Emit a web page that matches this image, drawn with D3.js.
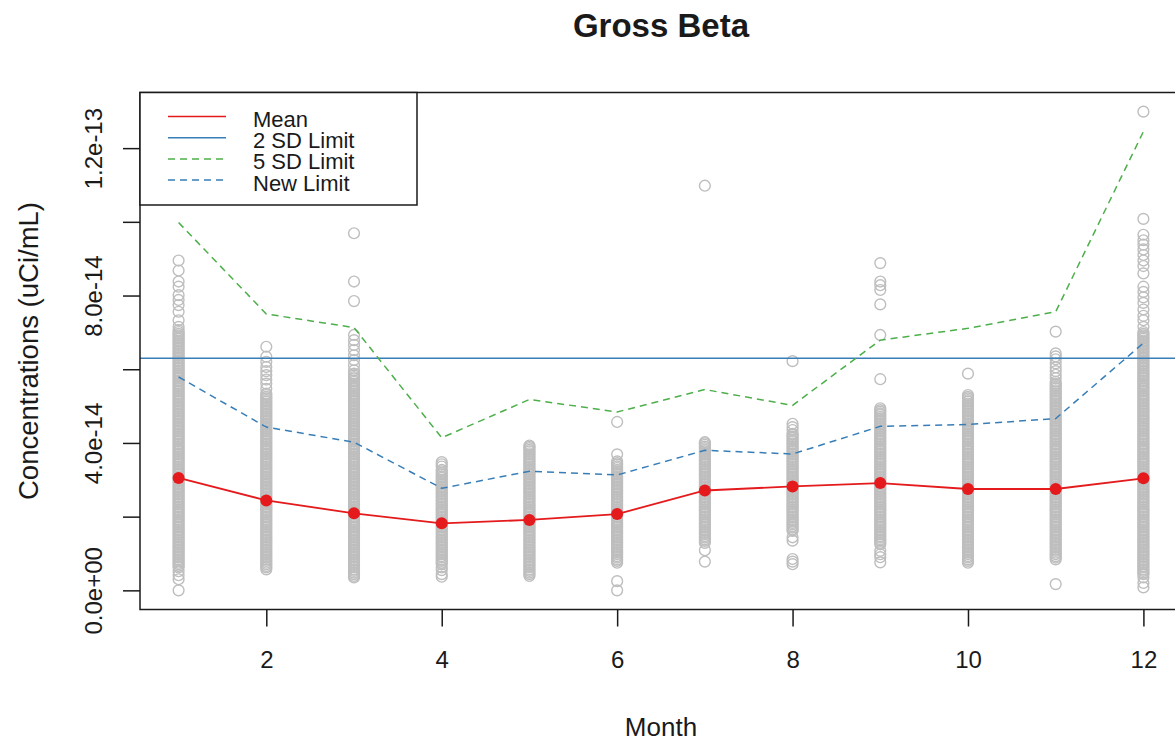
<!DOCTYPE html>
<html>
<head>
<meta charset="utf-8">
<script src="https://cdn.jsdelivr.net/npm/d3@7"></script>
<style>
  body { margin: 0; background: #fff; }
  svg { display: block; }
  text { font-family: "Liberation Sans", Arial, Helvetica, sans-serif; fill: #1a1a1a; }
</style>
</head>
<body>
<svg id="chart" width="1175" height="743"></svg>
<script>
// All concentrations below are stored in units of 1e-14 uCi/mL.
const UNIT = 1e-14;

const months = [1, 2, 3, 4, 5, 6, 7, 8, 9, 10, 11, 12];

// Individual monthly readings (gross beta), one array per month
const readingsJan = [8.95,8.68,8.38,8.24,8.01,7.88,7.74,7.56,7.33,7.15,
  0.62,0.66,0.71,0.75,0.8,0.84,0.89,0.93,0.98,1.02,1.07,1.11,1.16,1.2,1.25,1.29,1.34,1.38,1.43,1.47,1.52,1.56,1.61,1.65,1.7,1.74,1.79,1.83,1.88,1.92,1.97,2.01,2.06,2.1,2.15,2.19,2.24,2.28,2.33,2.37,2.42,2.46,2.51,2.55,2.6,2.64,2.69,2.73,2.78,2.82,2.87,2.91,2.96,3,3.05,3.09,3.14,3.18,3.23,3.27,3.32,3.36,3.41,3.45,3.5,3.54,3.59,3.63,3.68,3.72,3.77,3.81,3.86,3.9,3.95,3.99,4.04,4.08,4.13,4.17,4.22,4.26,4.31,4.35,4.4,4.44,4.49,4.53,4.58,4.62,4.67,4.71,4.76,4.8,4.85,4.89,4.94,4.98,5.03,5.07,5.12,5.16,5.21,5.25,5.3,5.34,5.39,5.43,5.48,5.52,5.57,5.61,5.66,5.7,5.75,5.79,5.84,5.88,5.93,5.97,6.02,6.06,6.11,6.15,6.2,6.24,6.29,6.33,6.38,6.42,6.47,6.51,6.56,6.6,6.65,6.69,6.74,6.78,6.83,6.87,6.92,6.96,7.01,7.06,
  0.52,0.41,0.3,0.0];
const readingsFeb = [6.61,6.34,6.2,6.06,5.95,5.84,5.72,5.61,5.47,
  0.57,0.62,0.66,0.71,0.75,0.8,0.84,0.89,0.93,0.98,1.02,1.07,1.11,1.16,1.2,1.25,1.29,1.34,1.38,1.43,1.47,1.52,1.56,1.61,1.65,1.7,1.74,1.79,1.83,1.88,1.92,1.97,2.01,2.06,2.1,2.15,2.19,2.24,2.28,2.33,2.37,2.42,2.46,2.51,2.55,2.6,2.64,2.69,2.73,2.78,2.82,2.87,2.91,2.96,3,3.05,3.09,3.14,3.18,3.23,3.27,3.32,3.36,3.41,3.45,3.5,3.54,3.59,3.63,3.68,3.72,3.77,3.81,3.86,3.9,3.95,3.99,4.04,4.08,4.13,4.17,4.22,4.26,4.31,4.35,4.4,4.44,4.49,4.53,4.58,4.62,4.67,4.71,4.76,4.8,4.85,4.89,4.94,4.98,5.03,5.07,5.12,5.16,5.21,5.25,5.3,5.34];
const readingsMar = [9.69,8.38,7.85,6.93,6.79,6.66,6.52,6.38,6.25,6.11,5.97,
  0.35,0.39,0.44,0.48,0.53,0.57,0.62,0.66,0.71,0.75,0.8,0.84,0.89,0.93,0.98,1.02,1.07,1.11,1.16,1.2,1.25,1.29,1.34,1.38,1.43,1.47,1.52,1.56,1.61,1.65,1.7,1.74,1.79,1.83,1.88,1.92,1.97,2.01,2.06,2.1,2.15,2.19,2.24,2.28,2.33,2.37,2.42,2.46,2.51,2.55,2.6,2.64,2.69,2.73,2.78,2.82,2.87,2.91,2.96,3,3.05,3.09,3.14,3.18,3.23,3.27,3.32,3.36,3.41,3.45,3.5,3.54,3.59,3.63,3.68,3.72,3.77,3.81,3.86,3.9,3.95,3.99,4.04,4.08,4.13,4.17,4.22,4.26,4.31,4.35,4.4,4.44,4.49,4.53,4.58,4.62,4.67,4.71,4.76,4.8,4.85,4.89,4.94,4.98,5.03,5.07,5.12,5.16,5.21,5.25,5.3,5.34,5.39,5.43,5.48,5.52,5.57,5.61,5.66,5.7,5.75,5.79,5.84,5.88];
const readingsApr = [3.48,3.42,3.36,
  0.71,0.75,0.8,0.84,0.89,0.93,0.98,1.02,1.07,1.11,1.16,1.2,1.25,1.29,1.34,1.38,1.43,1.47,1.52,1.56,1.61,1.65,1.7,1.74,1.79,1.83,1.88,1.92,1.97,2.01,2.06,2.1,2.15,2.19,2.24,2.28,2.33,2.37,2.42,2.46,2.51,2.55,2.6,2.64,2.69,2.73,2.78,2.82,2.87,2.91,2.96,3,3.05,3.09,3.14,3.18,3.23,3.27,
  0.62,0.55,0.44,0.37];
const readingsMay = [0.39,0.44,0.48,0.53,0.57,0.62,0.66,0.71,0.75,0.8,0.84,0.89,0.93,0.98,1.02,1.07,1.11,1.16,1.2,1.25,1.29,1.34,1.38,1.43,1.47,1.52,1.56,1.61,1.65,1.7,1.74,1.79,1.83,1.88,1.92,1.97,2.01,2.06,2.1,2.15,2.19,2.24,2.28,2.33,2.37,2.42,2.46,2.51,2.55,2.6,2.64,2.69,2.73,2.78,2.82,2.87,2.91,2.96,3,3.05,3.09,3.14,3.18,3.23,3.27,3.32,3.36,3.41,3.45,3.5,3.54,3.59,3.63,3.68,3.72,3.77,3.81,3.86,3.9,3.93];
const readingsJun = [4.57,3.69,
  0.75,0.8,0.84,0.89,0.93,0.98,1.02,1.07,1.11,1.16,1.2,1.25,1.29,1.34,1.38,1.43,1.47,1.52,1.56,1.61,1.65,1.7,1.74,1.79,1.83,1.88,1.92,1.97,2.01,2.06,2.1,2.15,2.19,2.24,2.28,2.33,2.37,2.42,2.46,2.51,2.55,2.6,2.64,2.69,2.73,2.78,2.82,2.87,2.91,2.96,3,3.05,3.09,3.14,3.18,3.23,3.27,3.32,3.36,3.41,3.45,3.5,
  0.25,0.0];
const readingsJul = [10.98,
  1.29,1.34,1.38,1.43,1.47,1.52,1.56,1.61,1.65,1.7,1.74,1.79,1.83,1.88,1.92,1.97,2.01,2.06,2.1,2.15,2.19,2.24,2.28,2.33,2.37,2.42,2.46,2.51,2.55,2.6,2.64,2.69,2.73,2.78,2.82,2.87,2.91,2.96,3,3.05,3.09,3.14,3.18,3.23,3.27,3.32,3.36,3.41,3.45,3.5,3.54,3.59,3.63,3.68,3.72,3.77,3.81,3.86,3.9,3.95,3.99,4.02,
  1.09,0.78];
const readingsAug = [6.22,4.52,4.43,4.35,
  1.61,1.65,1.7,1.74,1.79,1.83,1.88,1.92,1.97,2.01,2.06,2.1,2.15,2.19,2.24,2.28,2.33,2.37,2.42,2.46,2.51,2.55,2.6,2.64,2.69,2.73,2.78,2.82,2.87,2.91,2.96,3,3.05,3.09,3.14,3.18,3.23,3.27,3.32,3.36,3.41,3.45,3.5,3.54,3.59,3.63,3.68,3.72,3.77,3.81,3.86,3.9,3.95,3.99,4.04,4.08,4.13,4.17,4.22,4.25,
  1.44,1.35,0.85,0.78,0.71];
const readingsSep = [8.88,8.38,8.28,8.15,7.76,6.93,5.73,
  1.25,1.29,1.34,1.38,1.43,1.47,1.52,1.56,1.61,1.65,1.7,1.74,1.79,1.83,1.88,1.92,1.97,2.01,2.06,2.1,2.15,2.19,2.24,2.28,2.33,2.37,2.42,2.46,2.51,2.55,2.6,2.64,2.69,2.73,2.78,2.82,2.87,2.91,2.96,3,3.05,3.09,3.14,3.18,3.23,3.27,3.32,3.36,3.41,3.45,3.5,3.54,3.59,3.63,3.68,3.72,3.77,3.81,3.86,3.9,3.95,3.99,4.04,4.08,4.13,4.17,4.22,4.26,4.31,4.35,4.4,4.44,4.49,4.53,4.58,4.62,4.67,4.71,4.76,4.8,4.85,4.89,4.94,
  1.07,0.98,0.9,0.76];
const readingsOct = [5.88,
  0.75,0.8,0.84,0.89,0.93,0.98,1.02,1.07,1.11,1.16,1.2,1.25,1.29,1.34,1.38,1.43,1.47,1.52,1.56,1.61,1.65,1.7,1.74,1.79,1.83,1.88,1.92,1.97,2.01,2.06,2.1,2.15,2.19,2.24,2.28,2.33,2.37,2.42,2.46,2.51,2.55,2.6,2.64,2.69,2.73,2.78,2.82,2.87,2.91,2.96,3,3.05,3.09,3.14,3.18,3.23,3.27,3.32,3.36,3.41,3.45,3.5,3.54,3.59,3.63,3.68,3.72,3.77,3.81,3.86,3.9,3.95,3.99,4.04,4.08,4.13,4.17,4.22,4.26,4.31,4.35,4.4,4.44,4.49,4.53,4.58,4.62,4.67,4.71,4.76,4.8,4.85,4.89,4.94,4.98,5.03,5.07,5.12,5.16,5.21,5.25,5.3];
const readingsNov = [7.02,
  0.84,0.89,0.93,0.98,1.02,1.07,1.11,1.16,1.2,1.25,1.29,1.34,1.38,1.43,1.47,1.52,1.56,1.61,1.65,1.7,1.74,1.79,1.83,1.88,1.92,1.97,2.01,2.06,2.1,2.15,2.19,2.24,2.28,2.33,2.37,2.42,2.46,2.51,2.55,2.6,2.64,2.69,2.73,2.78,2.82,2.87,2.91,2.96,3,3.05,3.09,3.14,3.18,3.23,3.27,3.32,3.36,3.41,3.45,3.5,3.54,3.59,3.63,3.68,3.72,3.77,3.81,3.86,3.9,3.95,3.99,4.04,4.08,4.13,4.17,4.22,4.26,4.31,4.35,4.4,4.44,4.49,4.53,4.58,4.62,4.67,4.71,4.76,4.8,4.85,4.89,4.94,4.98,5.03,5.07,5.12,5.16,5.21,5.25,5.3,5.34,5.39,5.43,5.48,5.52,5.57,5.61,5.66,
  5.76,5.85,5.95,6.05,6.16,6.27,6.35,6.43,
  0.17];
const readingsDec = [12.99,10.08,9.65,9.5,9.38,9.25,9.1,8.95,8.8,8.6,8.24,8.1,7.95,7.8,7.62,7.45,7.33,7.15,
  0.44,0.48,0.53,0.57,0.62,0.66,0.71,0.75,0.8,0.84,0.89,0.93,0.98,1.02,1.07,1.11,1.16,1.2,1.25,1.29,1.34,1.38,1.43,1.47,1.52,1.56,1.61,1.65,1.7,1.74,1.79,1.83,1.88,1.92,1.97,2.01,2.06,2.1,2.15,2.19,2.24,2.28,2.33,2.37,2.42,2.46,2.51,2.55,2.6,2.64,2.69,2.73,2.78,2.82,2.87,2.91,2.96,3,3.05,3.09,3.14,3.18,3.23,3.27,3.32,3.36,3.41,3.45,3.5,3.54,3.59,3.63,3.68,3.72,3.77,3.81,3.86,3.9,3.95,3.99,4.04,4.08,4.13,4.17,4.22,4.26,4.31,4.35,4.4,4.44,4.49,4.53,4.58,4.62,4.67,4.71,4.76,4.8,4.85,4.89,4.94,4.98,5.03,5.07,5.12,5.16,5.21,5.25,5.3,5.34,5.39,5.43,5.48,5.52,5.57,5.61,5.66,5.7,5.75,5.79,5.84,5.88,5.93,5.97,6.02,6.06,6.11,6.15,6.2,6.24,6.29,6.33,6.38,6.42,6.47,6.51,6.56,6.6,6.65,6.69,6.74,6.78,6.83,6.87,6.92,6.96,7.01,
  0.35,0.2,0.08];

const readingsByMonth = [readingsJan, readingsFeb, readingsMar, readingsApr, readingsMay, readingsJun,
  readingsJul, readingsAug, readingsSep, readingsOct, readingsNov, readingsDec];

// Monthly summary statistics
const meanConc   = [3.05, 2.44, 2.09, 1.82, 1.91, 2.07, 2.71, 2.82, 2.91, 2.75, 2.75, 3.04];
const fiveSdConc = [9.98, 7.50, 7.13, 4.14, 5.18, 4.84, 5.45, 5.02, 6.79, 7.11, 7.56, 12.45];
const newLimit   = [5.79, 4.43, 4.02, 2.77, 3.23, 3.13, 3.80, 3.70, 4.45, 4.50, 4.66, 6.71];
const twoSdLimit = 6.30;

// Axis ticks
const xTicks = [2, 4, 6, 8, 10, 12];
const yTicks = [0, 2, 4, 6, 8, 10, 12];
const yTickLabels = { 0: "0.0e+00", 4: "4.0e-14", 8: "8.0e-14", 12: "1.2e-13" };

const legendLabels = ["Mean", "2 SD Limit", "5 SD Limit", "New Limit"];

const COL_RED = "#E41A1C", COL_BLUE = "#377EB8", COL_GREEN = "#4DAF4A", COL_GREY = "#BEBEBE";

// ---- layout ----
const svg = d3.select("#chart");
const plot = { left: 140, right: 1182, top: 92.5, bottom: 609.5 };

// Base-graphics style 4% padding around the data range
const allReadings = readingsByMonth.flat();
const yMin = 0, yMax = d3.max(allReadings);
const yPad = (yMax - yMin) * 0.04;
const xPad = (d3.max(months) - d3.min(months)) * 0.04;

const x = d3.scaleLinear()
  .domain([d3.min(months) - xPad, d3.max(months) + xPad])
  .range([plot.left, plot.right]);
const y = d3.scaleLinear()
  .domain([(yMin - yPad) * UNIT, (yMax + yPad) * UNIT])
  .range([plot.bottom, plot.top]);

// clip for data marks
svg.append("clipPath").attr("id", "plotClip")
  .append("rect")
  .attr("x", plot.left).attr("y", plot.top)
  .attr("width", plot.right - plot.left).attr("height", plot.bottom - plot.top);

const marks = svg.append("g").attr("clip-path", "url(#plotClip)");

// Individual readings (open grey circles)
const points = months.flatMap((m, i) => readingsByMonth[i].map(v => ({ m, v })));
marks.append("g")
  .selectAll("circle")
  .data(points)
  .join("circle")
  .attr("cx", d => x(d.m))
  .attr("cy", d => y(d.v * UNIT))
  .attr("r", 5.4)
  .attr("fill", "none")
  .attr("stroke", COL_GREY)
  .attr("stroke-width", 1.4);

const lineOf = arr => d3.line()
  .x((d, i) => x(months[i]))
  .y(d => y(d * UNIT))(arr);

// Mean line with solid markers
marks.append("path")
  .attr("d", lineOf(meanConc))
  .attr("fill", "none")
  .attr("stroke", COL_RED)
  .attr("stroke-width", 1.8);
marks.append("g")
  .selectAll("circle")
  .data(meanConc)
  .join("circle")
  .attr("cx", (d, i) => x(months[i]))
  .attr("cy", d => y(d * UNIT))
  .attr("r", 6)
  .attr("fill", COL_RED);

// 2 SD limit (horizontal)
marks.append("line")
  .attr("x1", plot.left).attr("x2", plot.right)
  .attr("y1", y(twoSdLimit * UNIT)).attr("y2", y(twoSdLimit * UNIT))
  .attr("stroke", COL_BLUE)
  .attr("stroke-width", 1.5);

// 5 SD limit
marks.append("path")
  .attr("d", lineOf(fiveSdConc))
  .attr("fill", "none")
  .attr("stroke", COL_GREEN)
  .attr("stroke-width", 1.5)
  .attr("stroke-dasharray", "7,5");

// New limit
marks.append("path")
  .attr("d", lineOf(newLimit))
  .attr("fill", "none")
  .attr("stroke", COL_BLUE)
  .attr("stroke-width", 1.5)
  .attr("stroke-dasharray", "7,5");

// ---- axes ----
const xAxis = svg.append("g")
  .attr("transform", `translate(0,${plot.bottom})`)
  .call(d3.axisBottom(x).tickValues(xTicks).tickSize(17).tickSizeOuter(0).tickFormat(d3.format("d")));
xAxis.select(".domain").remove();
xAxis.selectAll(".tick line").attr("stroke", "#1a1a1a").attr("stroke-width", 1.5);
xAxis.selectAll(".tick text")
  .attr("y", 58.5).attr("dy", 0)
  .attr("font-size", 24)
  .attr("fill", "#1a1a1a");

const yAxis = svg.append("g")
  .attr("transform", `translate(${plot.left},0)`)
  .call(d3.axisLeft(y).tickValues(yTicks.map(t => t * UNIT)).tickSize(17).tickSizeOuter(0)
    .tickFormat(d => yTickLabels[Math.round(d / UNIT)] || ""));
yAxis.select(".domain").remove();
yAxis.selectAll(".tick line").attr("stroke", "#1a1a1a").attr("stroke-width", 1.5);
yAxis.selectAll(".tick text")
  .attr("x", 0).attr("y", 0).attr("dy", 0)
  .attr("text-anchor", "middle")
  .attr("transform", "translate(-38,0) rotate(-90)")
  .attr("font-size", 24)
  .attr("fill", "#1a1a1a");

// plot frame
svg.append("rect")
  .attr("x", plot.left).attr("y", plot.top)
  .attr("width", plot.right - plot.left).attr("height", plot.bottom - plot.top)
  .attr("fill", "none")
  .attr("stroke", "#1a1a1a")
  .attr("stroke-width", 1.5);

// ---- titles ----
const cx = (plot.left + plot.right) / 2;
svg.append("text")
  .attr("x", cx).attr("y", 37)
  .attr("text-anchor", "middle")
  .attr("font-size", 33).attr("font-weight", "bold")
  .text("Gross Beta");

svg.append("text")
  .attr("x", cx).attr("y", 736)
  .attr("text-anchor", "middle")
  .attr("font-size", 26)
  .text("Month");

svg.append("text")
  .attr("transform", `translate(38,${(plot.top + plot.bottom) / 2}) rotate(-90)`)
  .attr("text-anchor", "middle")
  .attr("font-size", 27.5)
  .text("Concentrations (uCi/mL)");

// ---- legend ----
const legendStyles = [
  { color: COL_RED, dash: null },
  { color: COL_BLUE, dash: null },
  { color: COL_GREEN, dash: "7,5" },
  { color: COL_BLUE, dash: "7,5" }
];
const legend = svg.append("g");
legend.append("rect")
  .attr("x", plot.left).attr("y", plot.top)
  .attr("width", 277).attr("height", 112.5)
  .attr("fill", "#fff")
  .attr("stroke", "#1a1a1a")
  .attr("stroke-width", 1.5);
const rows = legend.selectAll("g.row")
  .data(legendLabels)
  .join("g")
  .attr("class", "row")
  .attr("transform", (d, i) => `translate(0,${116.5 + i * 21.2})`);
rows.append("line")
  .attr("x1", 168).attr("x2", 226)
  .attr("stroke", (d, i) => legendStyles[i].color)
  .attr("stroke-width", 1.5)
  .attr("stroke-dasharray", (d, i) => legendStyles[i].dash);
rows.append("text")
  .attr("x", 253).attr("y", 10.5)
  .attr("font-size", 22)
  .text(d => d);
</script>
</body>
</html>
